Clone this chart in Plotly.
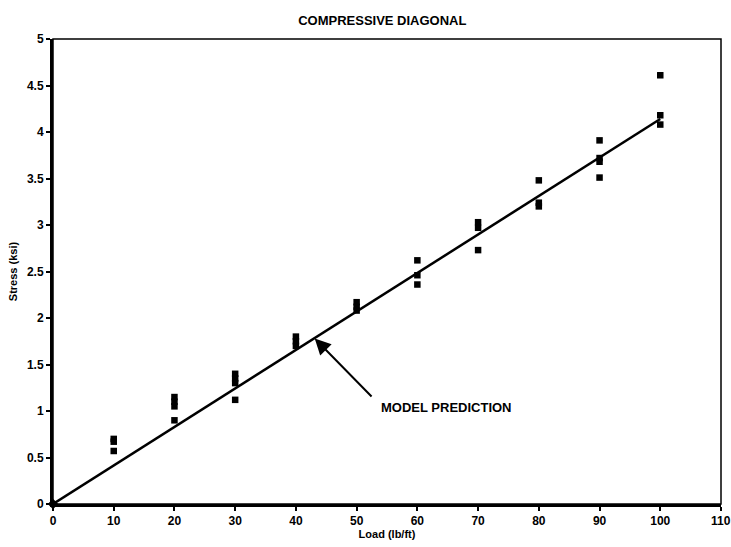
import plotly.graph_objects as go

# Test data (Load in lb/ft, Stress in ksi)
load_10 = [10, 10, 10]
stress_10 = [0.70, 0.67, 0.57]
load_20 = [20, 20, 20, 20]
stress_20 = [1.15, 1.10, 1.05, 0.90]
load_30 = [30, 30, 30, 30]
stress_30 = [1.40, 1.35, 1.30, 1.12]
load_40 = [40, 40, 40]
stress_40 = [1.80, 1.75, 1.70]
load_50 = [50, 50, 50]
stress_50 = [2.17, 2.12, 2.08]
load_60 = [60, 60, 60]
stress_60 = [2.62, 2.46, 2.36]
load_70 = [70, 70, 70]
stress_70 = [3.03, 2.97, 2.73]
load_80 = [80, 80, 80]
stress_80 = [3.48, 3.24, 3.20]
load_90 = [90, 90, 90, 90]
stress_90 = [3.91, 3.72, 3.68, 3.51]
load_100 = [100, 100, 100]
stress_100 = [4.61, 4.18, 4.08]

model_load = [0, 100]
model_stress = [0, 4.14]

x_ticks = [0, 10, 20, 30, 40, 50, 60, 70, 80, 90, 100, 110]
y_ticks = [0, 0.5, 1, 1.5, 2, 2.5, 3, 3.5, 4, 4.5, 5]

test_load = load_10 + load_20 + load_30 + load_40 + load_50 + load_60 + load_70 + load_80 + load_90 + load_100
test_stress = stress_10 + stress_20 + stress_30 + stress_40 + stress_50 + stress_60 + stress_70 + stress_80 + stress_90 + stress_100

FONT = "Liberation Sans"
TICKFONT = dict(family=FONT, size=12, color="black", weight="bold")

fig = go.Figure()
fig.add_trace(go.Scatter(
    x=model_load, y=model_stress, mode="lines",
    line=dict(color="black", width=2.5), showlegend=False, cliponaxis=False))
fig.add_trace(go.Scatter(
    x=test_load, y=test_stress, mode="markers",
    marker=dict(symbol="square", size=6.5, color="black"), showlegend=False, cliponaxis=False))
fig.add_trace(go.Scatter(
    x=[0], y=[0], mode="markers",
    marker=dict(symbol="diamond", size=8, color="black"), showlegend=False, cliponaxis=False))

fig.add_annotation(
    x=43.1, y=1.78, ax=52.7, ay=1.14, axref="x", ayref="y", xref="x", yref="y",
    text="", showarrow=True, arrowhead=2, arrowsize=1.6, arrowwidth=2, arrowcolor="black")
fig.add_annotation(
    x=53.6, y=1.04, xref="x", yref="y", text="MODEL PREDICTION", showarrow=False,
    xanchor="left", yanchor="middle",
    font=dict(family=FONT, size=13, color="black", weight="bold"))

# last x tick label, which runs past the right edge of the page
fig.add_annotation(
    x=x_ticks[-1], y=0, xref="x", yref="y", text=str(x_ticks[-1]), showarrow=False,
    xanchor="center", yanchor="top", yshift=-8, font=TICKFONT)

fig.add_shape(type="rect", xref="x domain", yref="y domain", x0=0, x1=1, y0=0, y1=1,
              line=dict(color="black", width=1.5), layer="above")

fig.update_layout(
    width=731, height=547,
    margin=dict(l=53, r=10, t=39, b=37),
    paper_bgcolor="white", plot_bgcolor="white",
    title=dict(text="COMPRESSIVE DIAGONAL", x=0.523, xanchor="center", y=0.962, yanchor="middle",
               font=dict(family=FONT, size=13, color="black", weight="bold")),
    font=dict(family=FONT, color="black"),
)
fig.update_xaxes(
    range=[0, 110], tickvals=x_ticks,
    ticktext=[str(v) for v in x_ticks[:-1]] + [""],
    showgrid=False, zeroline=False, showline=True, linecolor="black", linewidth=3,
    ticks="outside", ticklen=4, tickwidth=2, tickcolor="black",
    tickfont=TICKFONT,
    title=dict(text="Load (lb/ft)", standoff=1,
               font=dict(family=FONT, size=11, color="black", weight="bold")))
fig.update_yaxes(
    range=[0, 5], tickvals=y_ticks, ticktext=[("%g" % v) for v in y_ticks],
    showgrid=False, zeroline=False, showline=True, linecolor="black", linewidth=3,
    ticks="outside", ticklen=4, tickwidth=2, tickcolor="black",
    tickfont=TICKFONT,
    title=dict(text="Stress (ksi)", standoff=8,
               font=dict(family=FONT, size=11, color="black", weight="bold")))

fig.write_html("out.html")
